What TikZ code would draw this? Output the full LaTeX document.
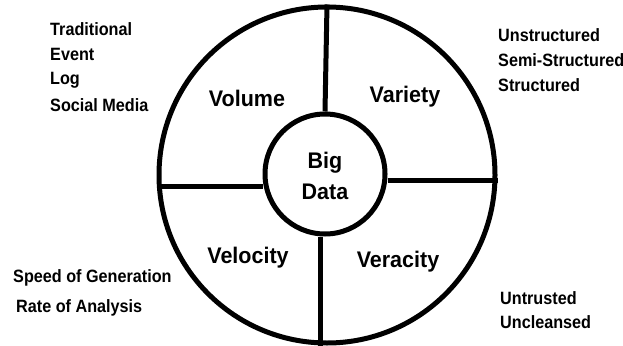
\documentclass[tikz,border=0pt]{standalone}
\usepackage{fontspec}
\setmainfont{Liberation Sans}
\begin{document}
\begin{tikzpicture}[x=1pt,y=-1pt,
  ring/.style={line width=5pt,draw=black},
  big/.style={font=\bfseries\fontsize{21.5}{24}\selectfont,inner sep=0pt,yscale=1.05},
  small/.style={font=\bfseries\fontsize{16.2}{18}\selectfont,inner sep=0pt,anchor=west,yscale=1.1}]
\useasboundingbox (0,0) rectangle (623,345);
\fill[white] (0,0) rectangle (623,345);
\node[ring,circle,minimum size=336pt,inner sep=0pt] (outer) at (327,175) {};
\node[ring,circle,minimum size=120pt,inner sep=0pt] (inner) at (325,174) {};
\draw[ring] (inner.north) -- (outer.north);
\draw[ring] (inner.south) ++(-5,0) coordinate (bs) -- (bs |- outer.south);
\draw[ring] (inner.west) ++(0,12) coordinate (lw) -- (lw -| outer.west);
\draw[ring] (inner.east) ++(0,6) coordinate (re) -- (re -| outer.east);
\node[big] (big) at (325,163) {Big};
\node[big] (data) at (325,192) {Data};
\node[big] (volume) at (247,98) {Volume};
\node[big] (variety) at (405,97) {Variety};
\node[big] (velocity) at (248,258) {Velocity};
\node[big] (veracity) at (398,262) {Veracity};
\node[small] (t1) at (50,29) {Traditional};
\node[small] (t2) at (50,54) {Event};
\node[small] (t3) at (50,80) {Log};
\node[small] (t4) at (50,105) {Social Media};
\node[small] (u1) at (498,35) {Unstructured};
\node[small] (u2) at (498,60) {Semi-Structured};
\node[small] (u3) at (498,85) {Structured};
\node[small] (s1) at (13,278) {Speed of Generation};
\node[small] (s2) at (16,308) {Rate of Analysis};
\node[small] (v1) at (500,298) {Untrusted};
\node[small] (v2) at (500,322) {Uncleansed};
\end{tikzpicture}
\end{document}
